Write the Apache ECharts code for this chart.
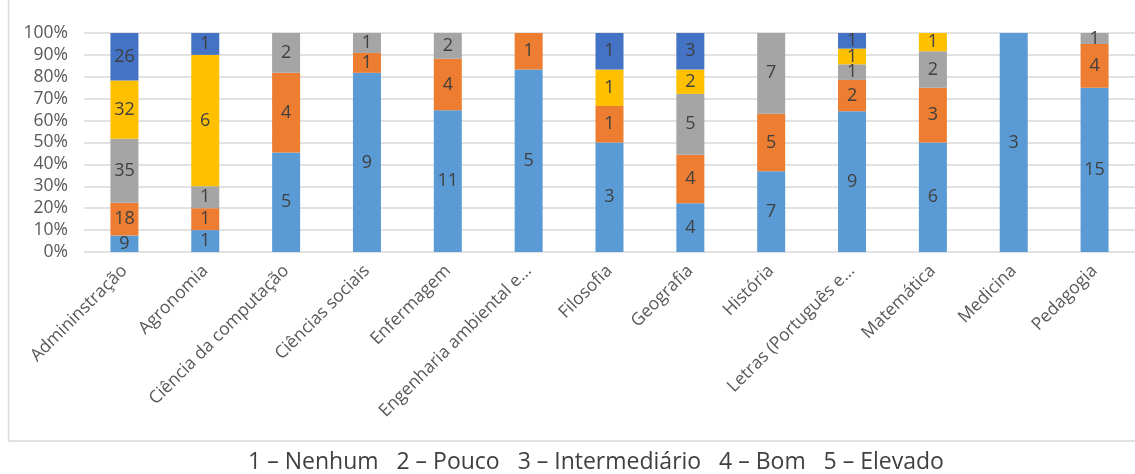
<!DOCTYPE html>
<html>
<head>
<meta charset="utf-8">
<script src="https://cdn.jsdelivr.net/npm/echarts@6/dist/echarts.min.js"></script>
<style>
  html, body { margin: 0; padding: 0; background: #fff; }
  #chart { width: 1135px; height: 474px; }
</style>
</head>
<body>
<div id="chart"></div>
<script>
// categories (courses)
var cursos = ['Admininstração', 'Agronomia', 'Ciência da computação', 'Ciências sociais', 'Enfermagem',
  'Engenharia ambiental e...', 'Filosofia', 'Geografia', 'História', 'Letras (Português e...',
  'Matemática', 'Medicina', 'Pedagogia'];

// counts per level
var nenhum        = [9, 1, 5, 9, 11, 5, 3, 4, 7, 9, 6, 3, 15];
var pouco         = [18, 1, 4, 1, 4, 1, 1, 4, 5, 2, 3, 0, 4];
var intermediario = [35, 1, 2, 1, 2, 0, 0, 5, 7, 1, 2, 0, 1];
var bom           = [32, 6, 0, 0, 0, 0, 1, 2, 0, 1, 1, 0, 0];
var elevado       = [26, 1, 0, 0, 0, 0, 1, 3, 0, 1, 0, 0, 0];

var yTicks = ['0%', '10%', '20%', '30%', '40%', '50%', '60%', '70%', '80%', '90%', '100%'];

var niveis = [
  { name: '1 – Nenhum', data: nenhum, color: '#5B9BD5' },
  { name: '2 – Pouco', data: pouco, color: '#ED7D31' },
  { name: '3 – Intermediário', data: intermediario, color: '#A5A5A5' },
  { name: '4 – Bom', data: bom, color: '#FFC000' },
  { name: '5 – Elevado', data: elevado, color: '#4472C4' }
];

// totals per course, for the 100% stack
var totais = cursos.map(function (c, i) {
  return niveis.reduce(function (s, n) { return s + n.data[i]; }, 0);
});

var series = niveis.map(function (n) {
  return {
    name: n.name,
    type: 'bar',
    stack: 'total',
    barWidth: 28,
    itemStyle: { color: n.color },
    label: {
      show: true,
      position: 'inside',
      color: '#404040',
      fontSize: 18,
      fontFamily: 'Open Sans',
      formatter: function (p) { return n.data[p.dataIndex]; }
    },
    data: n.data.map(function (v, i) { return v ? v / totais[i] * 100 : '-'; })
  };
});

var myChart = echarts.init(document.getElementById('chart'));

var option = {
  animation: false,
  grid: { left: 84, right: -2, top: 33, height: 219 },
  xAxis: {
    type: 'category',
    data: cursos,
    axisLine: { show: false },
    axisTick: { show: false },
    axisLabel: {
      interval: 0,
      rotate: 45,
      margin: 16,
      color: '#595959',
      fontSize: 17.5,
      fontFamily: 'Open Sans'
    }
  },
  yAxis: {
    type: 'value',
    min: 0,
    max: 100,
    interval: 10,
    axisLine: { show: false },
    axisTick: { show: false },
    splitLine: { lineStyle: { color: '#d9d9d9', width: 1.5 } },
    axisLabel: {
      color: '#595959',
      fontSize: 17.5,
      fontFamily: 'Open Sans',
      margin: 16,
      formatter: function (v) { return yTicks[Math.round(v / 10)]; }
    }
  },
  graphic: [
    {
      type: 'rect',
      shape: { x: 8.5, y: -5, width: 1140, height: 446 },
      style: { fill: 'none', stroke: '#d9d9d9', lineWidth: 1.5 },
      silent: true
    },
    {
      type: 'text',
      x: 596,
      y: 462,
      style: {
        text: niveis.map(function (n) { return n.name; }).join('   '),
        fill: '#404040',
        fontSize: 23,
        fontFamily: 'Open Sans',
        align: 'center',
        verticalAlign: 'middle'
      }
    }
  ],
  series: series
};

myChart.setOption(option);
</script>
</body>
</html>
